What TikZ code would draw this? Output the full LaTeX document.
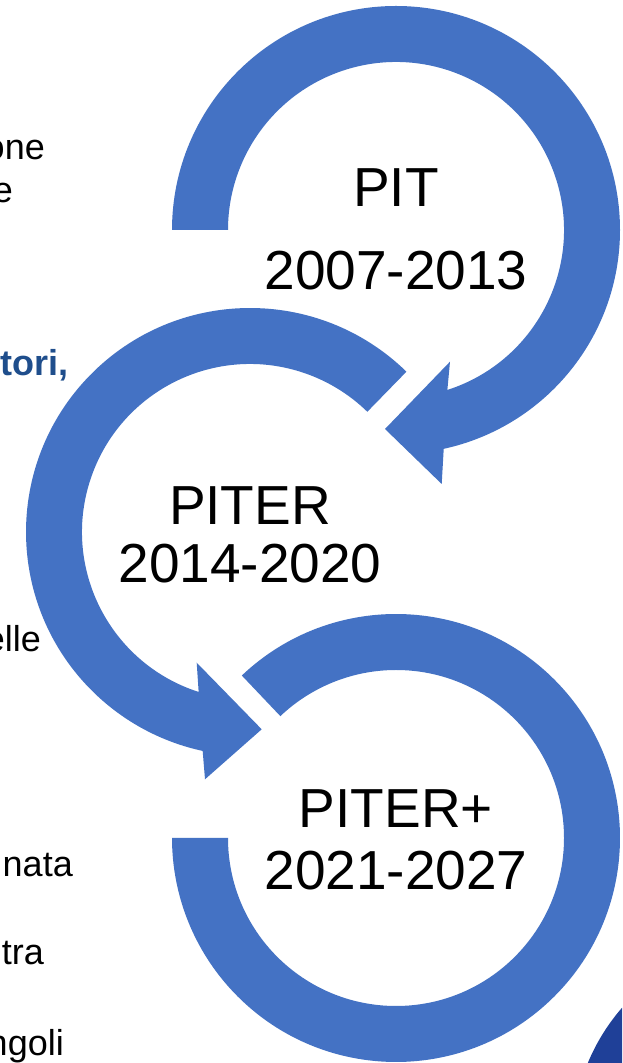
\documentclass[tikz,border=0pt]{standalone}
\usepackage{fontspec}
\setmainfont{Liberation Sans}
\usetikzlibrary{calc}
\definecolor{ringblue}{RGB}{68,114,196}
\definecolor{navyc}{RGB}{31,64,152}
\definecolor{txtblue}{RGB}{31,78,140}
\begin{document}
\begin{tikzpicture}[x=1pt,y=1pt,
  ring/.style={fill=ringblue, draw=none},
  big/.style={font=\fontsize{55}{60}\selectfont, inner sep=0pt, anchor=base},
  side/.style={font=\fontsize{36}{40}\selectfont, inner sep=0pt, anchor=base east}]
\useasboundingbox (0,0) rectangle (622,1063);
\clip (0,0) rectangle (622,1063);
\fill[white] (0,0) rectangle (622,1063);
\coordinate (C1) at (396,833);
\coordinate (C2) at (250,531);
\coordinate (C3) at (396,225);
% dark corner shape
\fill[navyc] (775,-77.6) circle[radius=202.6];
% ring 1 (PIT) with arrow head
\fill[ring] ($(C1)+(180:224)$) arc[start angle=180, end angle=-77.7, radius=224]
  -- (441.7,579) -- (385,634) -- (450,701.3) -- ($(C1)+(-72.2:168)$)
  arc[start angle=-72.2, end angle=180, radius=168] -- cycle;
% ring 2 (PITER) with arrow head
\fill[ring] ($(C2)+(45.7:224)$) arc[start angle=45.7, end angle=257.8, radius=224]
  -- (205,283.7) -- (261.7,333.7) -- (196.7,400.3) -- ($(C2)+(252.2:168)$)
  arc[start angle=252.2, end angle=45.7, radius=168] -- cycle;
% ring 3 (PITER+)
\fill[ring] ($(C3)+(133.5:224)$) arc[start angle=133.5, end angle=-180, radius=224]
  -- ($(C3)+(180:168)$) arc[start angle=-180, end angle=133.5, radius=168] -- cycle;
% ring texts
\node[big] (pit) at (396,856) {PIT};
\node[big] (pity) at (396,773) {2007-2013};
\node[big] (piter) at (250,538) {PITER};
\node[big] (pitery) at (250,480) {2014-2020};
\node[big] (piterp) at (396,235) {PITER+};
\node[big] (piterpy) at (396,173) {2021-2027};
% cut-off side texts
\node[side] (t1) at (45,903) {one};
\node[side] (t2) at (13,860) {e};
\node[side, font=\bfseries\fontsize{36}{40}\selectfont, text=txtblue] (t3) at (69,687) {tori,};
\node[side] (t4) at (41,411) {elle};
\node[side] (t5) at (73,186) {nata};
\node[side] (t6) at (44,98) {tra};
\node[side] (t7) at (64,7) {ngoli};
\end{tikzpicture}
\end{document}
